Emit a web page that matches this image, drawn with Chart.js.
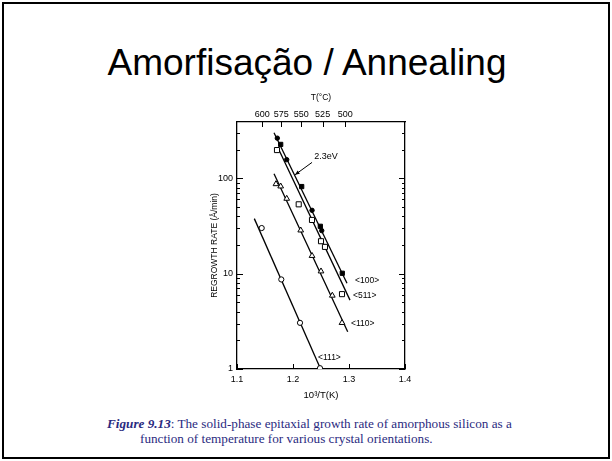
<!DOCTYPE html>
<html>
<head>
<meta charset="utf-8">
<script src="https://cdn.jsdelivr.net/npm/chart.js@4.4.1/dist/chart.umd.min.js"></script>
<style>
  html, body { margin:0; padding:0; background:#fff; }
  body { width:612px; height:461px; position:relative; overflow:hidden; }
  #frame { position:absolute; left:2px; top:2px; width:604px; height:453px; border:2px solid #000; box-sizing:content-box; }
  #title { position:absolute; left:0; top:44px; width:614px; text-align:center; font-family:'Liberation Sans', Arial, sans-serif; font-size:37px; line-height:37px; color:#000; white-space:nowrap; }
  #chartBox { position:absolute; left:190px; top:86px; width:230px; height:318px; }
  .cap { position:absolute; font-family:'Liberation Serif', 'Times New Roman', serif; font-size:13.2px; line-height:15px; color:#2a2a80; white-space:nowrap; }
  #cap1 { left:107px; top:416px; }
  #cap2 { left:140px; top:431px; }
</style>
</head>
<body>
<div id="frame"></div>
<div id="title">Amorfisação / Annealing</div>
<div id="chartBox"><canvas id="c" width="230" height="318"></canvas></div>
<div class="cap" id="cap1"><b><i>Figure 9.13</i></b>: The solid-phase epitaxial growth rate of amorphous silicon as a</div>
<div class="cap" id="cap2">function of temperature for various crystal orientations.</div>
<script>
// ---- data ----
const xTicks = [1.1, 1.2, 1.3, 1.4];
const yTicks = [1, 10, 100];
const topTempLabels = [600, 575, 550, 525, 500];

// <100> filled squares and filled circles
const dir100SquaresX = [1.178, 1.2155, 1.2488, 1.288];
const dir100SquaresY = [227, 82, 31.4, 10.1];
const dir100CirclesX = [1.172, 1.1888, 1.234, 1.2513];
const dir100CirclesY = [264, 157, 46.2, 28.3];
// <511> open squares
const dir511X = [1.1714, 1.2102, 1.2339, 1.25, 1.2571, 1.2875];
const dir511Y = [198, 53.4, 36.6, 21.9, 19.1, 6.1];
// <110> open triangles
const dir110X = [1.1696, 1.178, 1.1888, 1.2138, 1.234, 1.25, 1.2702, 1.2875];
const dir110Y = [87.2, 82.5, 61.3, 28.5, 15.4, 10.6, 5.9, 3.05];
// <111> open circles
const dir111X = [1.1441, 1.1791, 1.2125, 1.2482];
const dir111Y = [30.1, 8.7, 3.05, 1.02];

// fitted straight lines (end points)
const fit100X = [1.1661, 1.2964];
const fit100Y = [301, 7.95];
const fit511X = [1.175, 1.3018];
const fit511Y = [198, 5.28];
const fit110X = [1.1661, 1.2977];
const fit110Y = [112, 2.46];
const fit111X = [1.1309, 1.2493];
const fit111Y = [37.8, 1.0];

const seriesLabels = ['<100>', '<511>', '<110>', '<111>'];
const activationLabel = '2.3eV';

const pts = (xs, ys) => xs.map((x, i) => ({ x: x, y: ys[i] }));

const FONT = "'Liberation Sans', Arial, sans-serif";

const inwardTicks = {
  id: 'inwardTicks',
  afterDraw(chart) {
    const { ctx, chartArea: a, scales } = chart;
    ctx.save();
    ctx.strokeStyle = '#000';
    ctx.lineWidth = 1;
    const seg = (x1, y1, x2, y2) => { ctx.beginPath(); ctx.moveTo(x1, y1); ctx.lineTo(x2, y2); ctx.stroke(); };
    xTicks.forEach(v => {
      const px = Math.round(scales.x.getPixelForValue(v)) + 0.5;
      seg(px, a.bottom, px, a.bottom - 5);
    });
    topTempLabels.forEach(t => {
      const px = Math.round(scales.x2.getPixelForValue(1000 / (t + 273.15))) + 0.5;
      seg(px, a.top, px, a.top + 5);
    });
    const yMax = scales.y.max;
    yTicks.forEach(d => {
      for (let m = 1; m <= 9; m++) {
        const v = d * m;
        if (v > yMax) break;
        const py = Math.round(scales.y.getPixelForValue(v)) + 0.5;
        const len = m === 1 ? 6 : 3;
        seg(a.left, py, a.left + len, py);
        seg(a.right, py, a.right - len, py);
      }
    });
    ctx.restore();
  }
};

const annotations = {
  id: 'annotations',
  afterDatasetsDraw(chart) {
    const { ctx, scales } = chart;
    const X = v => scales.x.getPixelForValue(v);
    const Y = v => scales.y.getPixelForValue(v);
    ctx.save();
    ctx.fillStyle = '#000';
    ctx.strokeStyle = '#000';
    ctx.font = '8.5px ' + FONT;
    ctx.textBaseline = 'middle';
    ctx.textAlign = 'left';
    const labelPos = [[1.3107, 8.35], [1.3071, 5.81], [1.3036, 2.96], [1.2446, 1.30]];
    seriesLabels.forEach((s, i) => ctx.fillText(s, X(labelPos[i][0]), Y(labelPos[i][1])));
    ctx.font = '9px ' + FONT;
    ctx.textAlign = 'center';
    ctx.fillText(activationLabel, X(1.259), Y(170));
    // arrow
    const x1 = X(1.234), y1 = Y(147), x2 = X(1.2036), y2 = Y(109);
    ctx.lineWidth = 1;
    ctx.beginPath(); ctx.moveTo(x1, y1); ctx.lineTo(x2, y2); ctx.stroke();
    const ang = Math.atan2(y2 - y1, x2 - x1);
    const h = 5;
    ctx.beginPath();
    ctx.moveTo(x2, y2);
    ctx.lineTo(x2 - h * Math.cos(ang - 0.4), y2 - h * Math.sin(ang - 0.4));
    ctx.lineTo(x2 - h * Math.cos(ang + 0.4), y2 - h * Math.sin(ang + 0.4));
    ctx.closePath(); ctx.fill();
    ctx.restore();
  }
};

const lineDs = (xs, ys) => ({
  data: pts(xs, ys), showLine: true, borderColor: '#000', borderWidth: 1.3,
  pointRadius: 0, fill: false, order: 2
});
const markDs = (xs, ys, style, r, filled) => ({
  data: pts(xs, ys), showLine: false, pointStyle: style, pointRadius: r,
  backgroundColor: filled ? '#000' : '#fff', borderColor: '#000', borderWidth: 1, order: 1
});

const noGrid = { display: false, drawTicks: false, tickLength: 0 };

new Chart(document.getElementById('c'), {
  type: 'scatter',
  data: {
    datasets: [
      lineDs(fit100X, fit100Y),
      lineDs(fit511X, fit511Y),
      lineDs(fit110X, fit110Y),
      lineDs(fit111X, fit111Y),
      markDs(dir100SquaresX, dir100SquaresY, 'rect', 3, true),
      markDs(dir100CirclesX, dir100CirclesY, 'circle', 2.2, true),
      markDs(dir511X, dir511Y, 'rect', 3.6, false),
      markDs(dir110X, dir110Y, 'triangle', 3.3, false),
      markDs(dir111X, dir111Y, 'circle', 2.6, false)
    ]
  },
  options: {
    responsive: false,
    animation: false,
    layout: { padding: 0 },
    plugins: { legend: { display: false }, tooltip: { enabled: false } },
    scales: {
      x: {
        type: 'linear', position: 'bottom', min: 1.1, max: 1.4,
        grid: noGrid,
        border: { display: true, color: '#000', width: 1.3 },
        afterBuildTicks: s => { s.ticks = xTicks.map(v => ({ value: v })); },
        afterFit: s => { s.height = 35; },
        ticks: { color: '#000', padding: 5, font: { family: FONT, size: 9 }, callback: v => v.toFixed(1), maxRotation: 0 },
        title: { display: true, text: '10³/T(K)', color: '#000', font: { family: FONT, size: 9.5 }, padding: { top: 0, bottom: 3 } }
      },
      x2: {
        type: 'linear', position: 'top', min: 1.1, max: 1.4,
        grid: noGrid,
        border: { display: true, color: '#000', width: 1.3 },
        afterBuildTicks: s => { s.ticks = topTempLabels.map(t => ({ value: 1000 / (t + 273.15) })); },
        afterFit: s => { s.height = 36; },
        ticks: { color: '#000', padding: 2, font: { family: FONT, size: 9 }, callback: (v, i) => String(topTempLabels[i]), maxRotation: 0, autoSkip: false },
        title: { display: true, text: 'T(°C)', color: '#000', font: { family: FONT, size: 8.5 }, padding: { top: 7, bottom: 0 } }
      },
      y: {
        type: 'logarithmic', position: 'left', min: 1, max: 390,
        grid: noGrid,
        border: { display: true, color: '#000', width: 1.3 },
        afterBuildTicks: s => { s.ticks = yTicks.map(v => ({ value: v, major: true })); },
        afterFit: s => { s.width = 47; },
        ticks: { color: '#000', padding: 4, font: { family: FONT, size: 9 }, callback: v => String(v), autoSkip: false },
        title: { display: true, text: 'REGROWTH RATE (Å/min)', color: '#000', font: { family: FONT, size: 8.5 }, padding: { top: 20, bottom: 0 } }
      },
      y2: {
        type: 'logarithmic', position: 'right', min: 1, max: 390,
        grid: noGrid,
        border: { display: true, color: '#000', width: 1.3 },
        ticks: { display: false },
        afterFit: s => { s.width = 15; }
      }
    }
  },
  plugins: [inwardTicks, annotations]
});
</script>
</body>
</html>
